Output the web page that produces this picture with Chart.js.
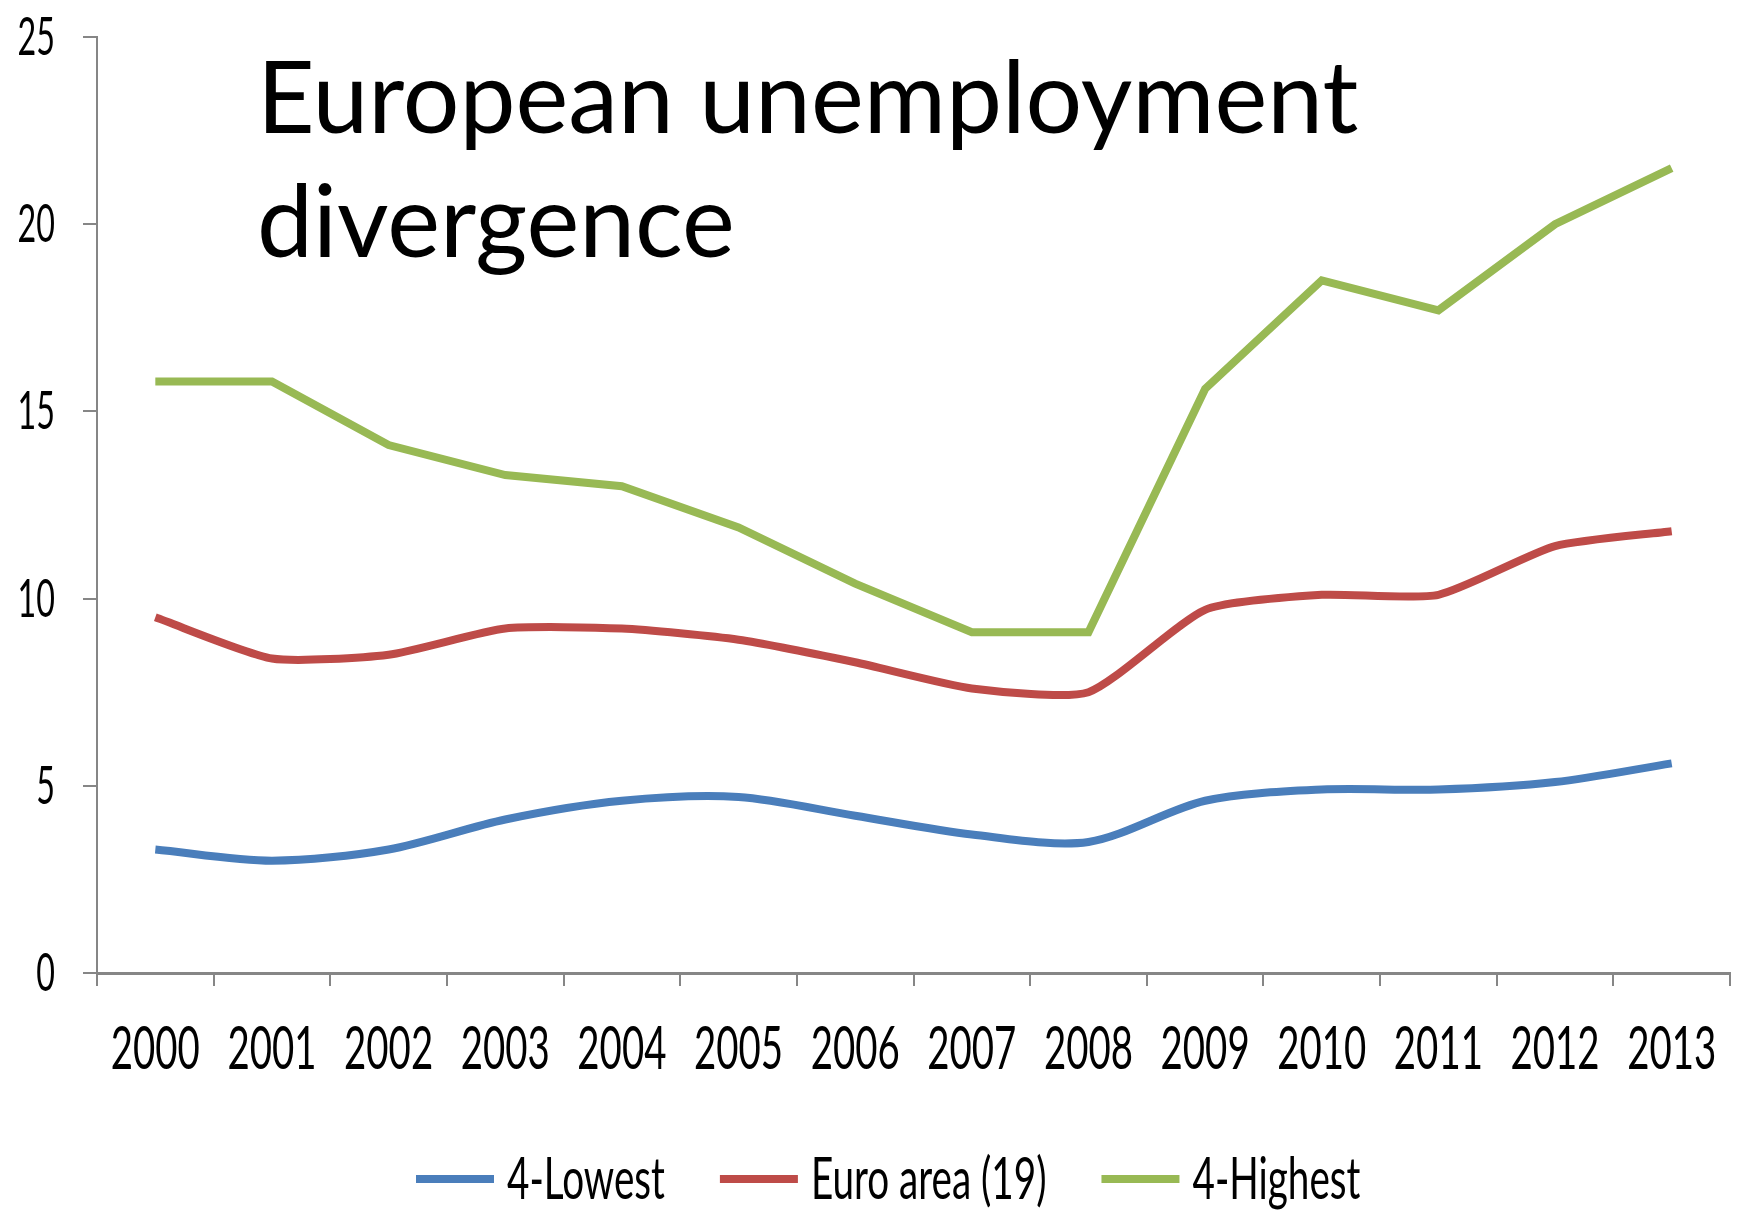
<!DOCTYPE html>
<html>
<head>
<meta charset="utf-8">
<script src="https://cdn.jsdelivr.net/npm/chart.js@4.4.1/dist/chart.umd.min.js"></script>
<style>
  html, body { margin: 0; padding: 0; background: #fff; }
  #wrap { width: 1739px; height: 1210px; }
</style>
</head>
<body>
<div id="wrap"><canvas id="unempChart" width="1739" height="1210"></canvas></div>
<script>
// Jahre und Arbeitslosenquoten (%)
const years = ["2000", "2001", "2002", "2003", "2004", "2005", "2006", "2007", "2008", "2009", "2010", "2011", "2012", "2013"];
const lowest4 = [3.3, 3.0, 3.3, 4.1, 4.6, 4.7, 4.2, 3.7, 3.5, 4.6, 4.9, 4.9, 5.1, 5.6];
const euroArea = [9.5, 8.4, 8.5, 9.2, 9.2, 8.9, 8.3, 7.6, 7.5, 9.7, 10.1, 10.1, 11.4, 11.8];
const highest4 = [15.8, 15.8, 14.1, 13.3, 13.0, 11.9, 10.4, 9.1, 9.1, 15.6, 18.5, 17.7, 20.0, 21.5];
const yTicks = [0, 5, 10, 15, 20, 25];
const seriesNames = ["4-Lowest", "Euro area (19)", "4-Highest"];
const seriesColors = ["#4a7ebb", "#be4b48", "#98b954"];

const axisColor = "#868686";

// schmale Schrift: normal zeichnen, horizontal gestaucht
function narrowText(ctx, text, x, y, size, align, sx) {
    ctx.save();
    ctx.font = size + "px Lato";
    ctx.fillStyle = "#000";
    ctx.translate(x, y);
    ctx.scale(sx, 1);
    ctx.textAlign = align;
    ctx.textBaseline = "alphabetic";
    ctx.fillText(text, 0, 0);
    ctx.restore();
}

function narrowWidth(ctx, text, size, sx) {
    ctx.save();
    ctx.font = size + "px Lato";
    const w = ctx.measureText(text).width * sx;
    ctx.restore();
    return w;
}

// Achsenbeschriftung, Legende und Titel
const textLayer = {
    id: "textLayer",
    afterDraw(chart) {
        const ctx = chart.ctx;
        const xs = chart.scales.x;
        const ys = chart.scales.y;

        yTicks.forEach(v => {
            narrowText(ctx, String(v), 55, ys.getPixelForValue(v) + 18, 52, "right", 0.62);
        });

        years.forEach((yr, i) => {
            narrowText(ctx, yr, xs.getPixelForValue(i), 1069, 60, "center", 0.64);
        });

        // Legende
        let lx = 416;
        const ly = 1179;
        seriesNames.forEach((name, i) => {
            ctx.save();
            ctx.strokeStyle = seriesColors[i];
            ctx.lineWidth = 8;
            ctx.beginPath();
            ctx.moveTo(lx, ly);
            ctx.lineTo(lx + 78, ly);
            ctx.stroke();
            ctx.restore();
            narrowText(ctx, name, lx + 91, 1199, 59, "left", 0.655);
            lx += 91 + narrowWidth(ctx, name, 59, 0.655) + 55;
        });

        // Titel
        ctx.save();
        ctx.font = "100px Lato";
        ctx.fillStyle = "#000";
        ctx.textAlign = "left";
        ctx.textBaseline = "alphabetic";
        ctx.fillText("European unemployment", 257, 133);
        ctx.fillText("divergence", 257, 257);
        ctx.restore();
    }
};

const ctx = document.getElementById("unempChart").getContext("2d");

new Chart(ctx, {
    type: "line",
    data: {
        labels: years,
        datasets: [
            { label: seriesNames[0], data: lowest4, borderColor: seriesColors[0], tension: 0.3 },
            { label: seriesNames[1], data: euroArea, borderColor: seriesColors[1], tension: 0.2 },
            { label: seriesNames[2], data: highest4, borderColor: seriesColors[2], tension: 0 }
        ]
    },
    options: {
        responsive: false,
        animation: false,
        devicePixelRatio: 1,
        elements: {
            line: { borderWidth: 8, fill: false },
            point: { radius: 0 }
        },
        layout: {
            padding: { left: 0, top: 37, right: 9, bottom: 0 }
        },
        plugins: {
            legend: { display: false },
            tooltip: { enabled: false }
        },
        scales: {
            x: {
                offset: true,
                grid: {
                    offset: true,
                    drawOnChartArea: false,
                    drawTicks: true,
                    tickLength: 13,
                    color: axisColor,
                    lineWidth: 2
                },
                border: { color: axisColor, width: 3 },
                ticks: { display: false },
                afterFit: scale => { scale.height = 237; }
            },
            y: {
                min: 0,
                max: 25,
                ticks: { display: false, stepSize: 5 },
                grid: {
                    drawOnChartArea: false,
                    drawTicks: true,
                    tickLength: 14,
                    color: axisColor,
                    lineWidth: 2
                },
                border: { color: axisColor, width: 2 },
                afterFit: scale => { scale.width = 97; }
            }
        }
    },
    plugins: [textLayer]
});
</script>
</body>
</html>
